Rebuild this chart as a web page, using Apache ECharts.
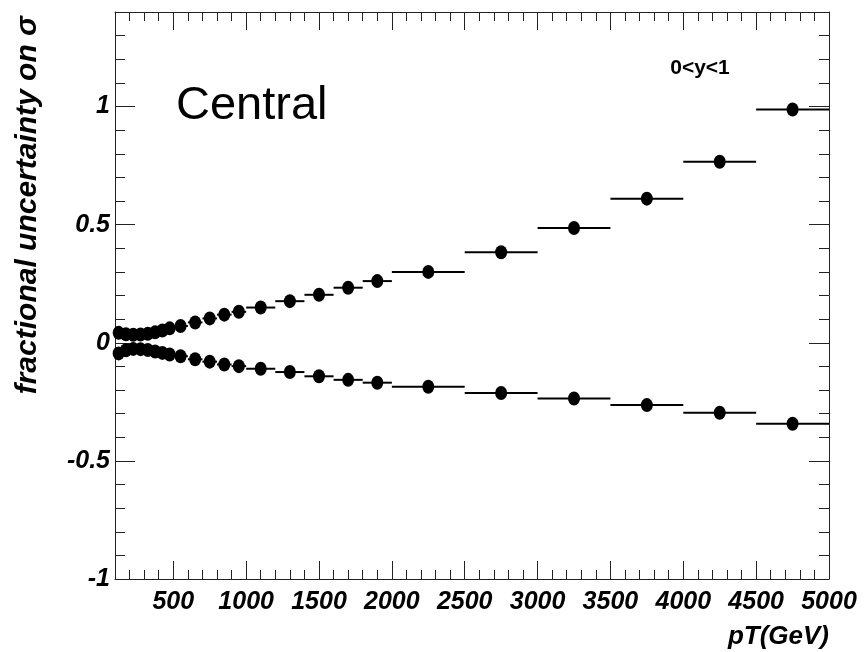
<!DOCTYPE html>
<html>
<head>
<meta charset="utf-8">
<title>fractional uncertainty on σ, 0&lt;y&lt;1</title>
<script src="https://cdn.jsdelivr.net/npm/echarts@6/dist/echarts.min.js"></script>
<style>
  html, body { margin: 0; padding: 0; background: #fff; }
  #chart { width: 865px; height: 652px; }
</style>
</head>
<body>
<div id="chart"></div>
<script>
// pT bins (GeV): centres and edges
const binCentre = [125, 175, 225, 275, 325, 375, 425, 475,
                   550, 650, 750, 850, 950,
                   1100, 1300, 1500, 1700, 1900,
                   2250, 2750, 3250, 3750, 4250, 4750];
const binLow    = [100, 150, 200, 250, 300, 350, 400, 450,
                   500, 600, 700, 800, 900,
                   1000, 1200, 1400, 1600, 1800,
                   2000, 2500, 3000, 3500, 4000, 4500];
const binHigh   = [150, 200, 250, 300, 350, 400, 450, 500,
                   600, 700, 800, 900, 1000,
                   1200, 1400, 1600, 1800, 2000,
                   2500, 3000, 3500, 4000, 4500, 5000];

// upward and downward fractional uncertainty in each bin
const upShift   = [0.042, 0.036, 0.034, 0.035, 0.038, 0.044, 0.052, 0.061,
                   0.071, 0.086, 0.103, 0.119, 0.131,
                   0.149, 0.176, 0.203, 0.233, 0.261,
                   0.300, 0.383, 0.486, 0.610, 0.766, 0.987];
const downShift = [-0.045, -0.032, -0.026, -0.027, -0.031, -0.037, -0.043, -0.050,
                   -0.057, -0.070, -0.080, -0.092, -0.099,
                   -0.110, -0.124, -0.142, -0.157, -0.169,
                   -0.186, -0.213, -0.236, -0.264, -0.296, -0.343];

// axis ticks
const xMajorTicks = [500, 1000, 1500, 2000, 2500, 3000, 3500, 4000, 4500, 5000];
const yMajorTicks = [-1, -0.5, 0, 0.5, 1];
const xRange = [100, 5000];
const yRange = [-1, 1.4];

// minor ticks every 100 GeV and every 0.1
const xMinorTicks = [];
for (let v = 200; v < 5000; v += 100) if (v % 500 !== 0) xMinorTicks.push(v);
const yMinorTicks = [];
for (let k = -9; k <= 13; k++) if (k % 5 !== 0) yMinorTicks.push(k / 10);

const frameColor = '#222';
const labelFont = {
  fontFamily: 'Liberation Sans, Arial, sans-serif',
  fontWeight: 'bold',
  fontStyle: 'italic',
  fontSize: 25,
  color: '#000'
};

function xAxisDef(position, ticks, len, withLabels, withLine) {
  return {
    type: 'value', position: position, min: xRange[0], max: xRange[1],
    axisLine: { show: withLine, onZero: false, lineStyle: { color: frameColor, width: 1 } },
    axisTick: { show: true, inside: true, length: len, customValues: ticks,
                lineStyle: { color: frameColor, width: 1 } },
    axisLabel: withLabels
      ? Object.assign({ show: true, customValues: ticks, margin: 11,
                        formatter: v => String(v) }, labelFont)
      : { show: false },
    splitLine: { show: false }
  };
}
function yAxisDef(position, ticks, len, withLabels, withLine) {
  return {
    type: 'value', position: position, min: yRange[0], max: yRange[1],
    axisLine: { show: withLine, onZero: false, lineStyle: { color: frameColor, width: 1 } },
    axisTick: { show: true, inside: true, length: len, customValues: ticks,
                lineStyle: { color: frameColor, width: 1 } },
    axisLabel: withLabels
      ? Object.assign({ show: true, customValues: ticks, margin: 5,
                        formatter: v => String(v) }, labelFont)
      : { show: false },
    splitLine: { show: false }
  };
}

const barData = binCentre.map((c, i) => [binLow[i], binHigh[i], upShift[i]])
  .concat(binCentre.map((c, i) => [binLow[i], binHigh[i], downShift[i]]));
const upPoints = binCentre.map((c, i) => [c, upShift[i]]);
const downPoints = binCentre.map((c, i) => [c, downShift[i]]);

const chart = echarts.init(document.getElementById('chart'), null, { renderer: 'canvas' });
chart.setOption({
  animation: false,
  backgroundColor: '#fff',
  grid: { left: 115, right: 36, top: 12, bottom: 73, containLabel: false },
  xAxis: [
    xAxisDef('bottom', xMajorTicks, 18, true, true),
    xAxisDef('bottom', xMinorTicks, 9, false, false),
    xAxisDef('top', xMajorTicks, 18, false, true),
    xAxisDef('top', xMinorTicks, 9, false, false)
  ],
  yAxis: [
    yAxisDef('left', yMajorTicks, 20, true, true),
    yAxisDef('left', yMinorTicks, 10, false, false),
    yAxisDef('right', yMajorTicks, 20, false, true),
    yAxisDef('right', yMinorTicks, 10, false, false)
  ],
  series: [
    {
      // horizontal bin-width bars
      type: 'custom',
      xAxisIndex: 0, yAxisIndex: 0,
      data: barData,
      encode: { x: [0, 1], y: 2 },
      renderItem: function (params, api) {
        const a = api.coord([api.value(0), api.value(2)]);
        const b = api.coord([api.value(1), api.value(2)]);
        return {
          type: 'line',
          shape: { x1: a[0], y1: a[1], x2: b[0], y2: b[1] },
          style: { stroke: '#000', lineWidth: 2 }
        };
      },
      z: 2
    },
    {
      type: 'scatter', xAxisIndex: 0, yAxisIndex: 0,
      data: upPoints, symbol: 'circle', symbolSize: [12, 14],
      itemStyle: { color: '#000', opacity: 1 }, z: 3
    },
    {
      type: 'scatter', xAxisIndex: 0, yAxisIndex: 0,
      data: downPoints, symbol: 'circle', symbolSize: [12, 14],
      itemStyle: { color: '#000', opacity: 1 }, z: 3
    }
  ],
  graphic: [
    {
      type: 'text', x: 28, y: 16, rotation: Math.PI / 2,
      style: {
        text: 'fractional uncertainty on σ',
        font: 'italic bold 30px "Liberation Sans", Arial, sans-serif',
        fill: '#000', align: 'right', verticalAlign: 'middle'
      }
    },
    {
      type: 'text', x: 829, y: 637,
      style: {
        text: 'pT(GeV)',
        font: 'italic bold 26px "Liberation Sans", Arial, sans-serif',
        fill: '#000', align: 'right', verticalAlign: 'middle'
      }
    },
    {
      type: 'text', x: 176, y: 106,
      style: {
        text: 'Central',
        font: '47px "Liberation Sans", Arial, sans-serif',
        fill: '#000', align: 'left', verticalAlign: 'middle'
      }
    },
    {
      type: 'text', x: 700, y: 68,
      style: {
        text: '0<y<1',
        font: 'bold 21px "Liberation Sans", Arial, sans-serif',
        fill: '#000', align: 'center', verticalAlign: 'middle'
      }
    }
  ]
});
</script>
</body>
</html>
